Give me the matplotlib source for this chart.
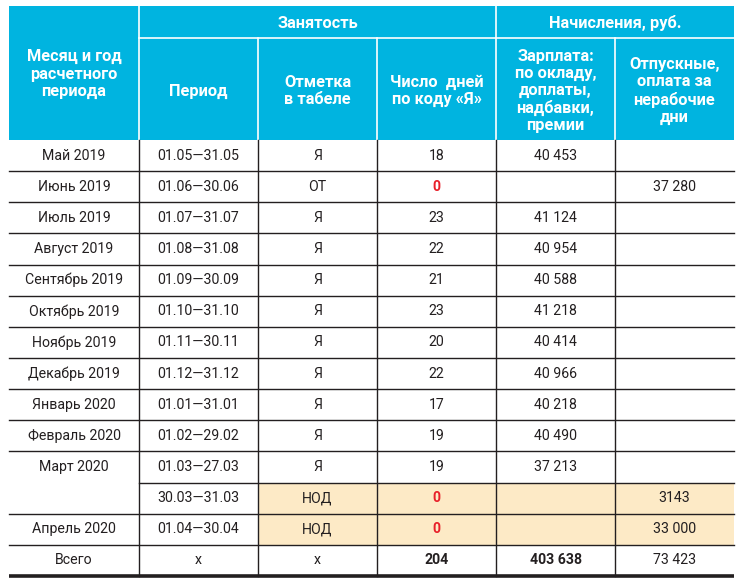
import matplotlib
matplotlib.use("Agg")
import matplotlib.pyplot as plt
from matplotlib.patches import Rectangle

# ---- data ----
months = ["Май 2019", "Июнь 2019", "Июль 2019", "Август 2019", "Сентябрь 2019",
          "Октябрь 2019", "Ноябрь 2019", "Декабрь 2019", "Январь 2020",
          "Февраль 2020", "Март 2020", "", "Апрель 2020", "Всего"]
periods = ["01.05—31.05", "01.06—30.06", "01.07—31.07", "01.08—31.08", "01.09—30.09",
           "01.10—31.10", "01.11—30.11", "01.12—31.12", "01.01—31.01", "01.02—29.02",
           "01.03—27.03", "30.03—31.03", "01.04—30.04", "х"]
marks = ["Я", "ОТ", "Я", "Я", "Я", "Я", "Я", "Я", "Я", "Я", "Я", "НОД", "НОД", "х"]
days = ["18", "0", "23", "22", "21", "23", "20", "22", "17", "19", "19", "0", "0", "204"]
salary = ["40 453", "", "41 124", "40 954", "40 588", "41 218", "40 414", "40 966",
          "40 218", "40 490", "37 213", "", "", "403 638"]
vacation = ["", "37 280", "", "", "", "", "", "", "", "", "", "3143", "33 000", "73 423"]

top_headers = ["Занятость", "Начисления, руб."]
col_headers = ["Месяц и год\nрасчетного\nпериода", "Период", "Отметка\nв табеле",
               "Число  дней\nпо коду «Я»", "Зарплата:\nпо окладу,\nдоплаты,\nнадбавки,\nпремии",
               "Отпускные,\nоплата за\nнерабочие\nдни"]

# ---- layout ----
W, H = 745, 583
col_x = [9, 139, 258, 377, 496, 615, 734]
hdr_top, hdr_mid, hdr_bot = 6, 38, 140
tbl_bot = 576
nrows = len(months)
row_h = (tbl_bot - hdr_bot) / nrows
row_y = [hdr_bot + i * row_h for i in range(nrows + 1)]

HDR = "#00B4E0"
PEACH = "#FDEAC6"
RED = "#E8202A"
TXT = "#231F20"
LINE = "#231F20"

plt.rcParams['font.family'] = ['Roboto', 'DejaVu Sans']

fig = plt.figure(figsize=(W / 100, H / 100), dpi=100)
ax = fig.add_axes([0, 0, 1, 1])
ax.set_xlim(0, W)
ax.set_ylim(H, 0)
ax.axis("off")

# header background
ax.add_patch(Rectangle((col_x[0], hdr_top), col_x[-1] - col_x[0], hdr_bot - hdr_top,
                       facecolor=HDR, edgecolor="none", zorder=1))
# header white lines
ax.plot([col_x[1], col_x[-1]], [hdr_mid, hdr_mid], color="white", lw=1.2, zorder=2)
for cx in (col_x[1], col_x[4]):
    ax.plot([cx, cx], [hdr_top, hdr_bot], color="white", lw=1.2, zorder=2)
for cx in (col_x[2], col_x[3], col_x[5]):
    ax.plot([cx, cx], [hdr_mid, hdr_bot], color="white", lw=1.2, zorder=2)

hfs = 11.8
ax.text((col_x[1] + col_x[4]) / 2, (hdr_top + hdr_mid) / 2 + 1, top_headers[0],
        ha="center", va="center", color="white", fontsize=hfs, fontweight="bold", zorder=3)
ax.text((col_x[4] + col_x[6]) / 2, (hdr_top + hdr_mid) / 2 + 1, top_headers[1],
        ha="center", va="center", color="white", fontsize=hfs, fontweight="bold", zorder=3)
for j, t in enumerate(col_headers):
    yc = (hdr_top + hdr_bot) / 2 + 1 if j == 0 else (hdr_mid + hdr_bot) / 2 + 2
    ax.text((col_x[j] + col_x[j + 1]) / 2, yc, t, ha="center", va="center",
            color="white", fontsize=hfs, fontweight="bold", linespacing=1.17, zorder=3)

# highlighted cells
for i, m in enumerate(marks):
    if m == "НОД":
        ax.add_patch(Rectangle((col_x[2], row_y[i]), col_x[-1] - col_x[2], row_h,
                               facecolor=PEACH, edgecolor="none", zorder=1))

# horizontal lines
for i in range(1, nrows):
    x0 = col_x[1] if months[i] == "" else col_x[0]
    ax.plot([x0, col_x[-1]], [row_y[i], row_y[i]], color=LINE, lw=1.0, zorder=2)
ax.plot([col_x[0], col_x[-1]], [tbl_bot, tbl_bot], color=LINE, lw=2.6, zorder=2,
        solid_capstyle="butt")
# vertical lines
for cx in col_x[1:-1]:
    ax.plot([cx, cx], [hdr_bot, tbl_bot], color=LINE, lw=1.0, zorder=2)

# cell text
fs = 10.2
columns = [months, periods, marks, days, salary, vacation]
for i in range(nrows):
    yc = (row_y[i] + row_y[i + 1]) / 2
    for j, col in enumerate(columns):
        t = col[i]
        if not t:
            continue
        color, weight = TXT, "normal"
        if j == 3 and t == "0":
            color, weight = RED, "bold"
        if months[i] == "Всего" and j in (3, 4):
            weight = "bold"
        ax.text((col_x[j] + col_x[j + 1]) / 2, yc, t, ha="center", va="center",
                color=color, fontsize=fs, fontweight=weight, zorder=3)

fig.savefig("out.png", dpi=100)
